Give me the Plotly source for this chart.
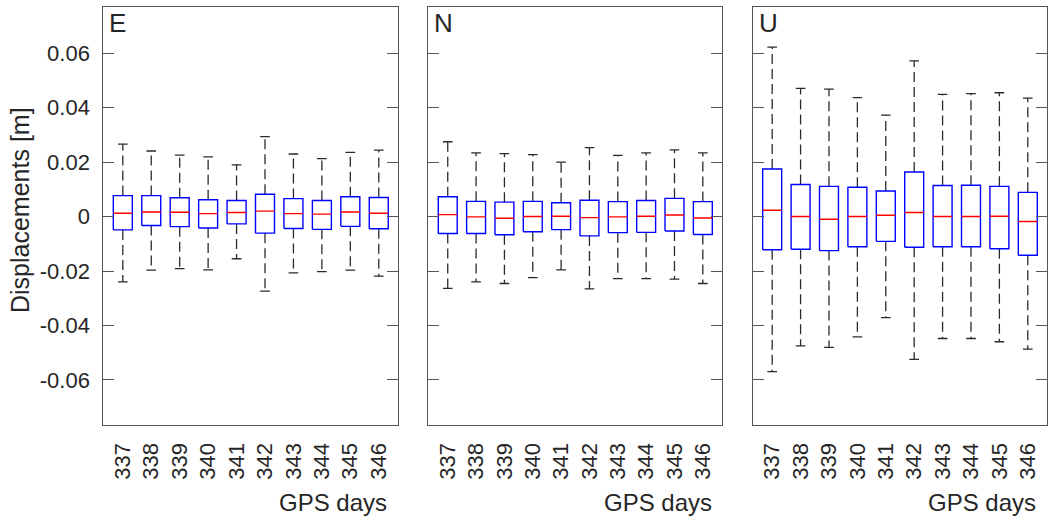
import plotly.graph_objects as go

days = ["337", "338", "339", "340", "341", "342", "343", "344", "345", "346"]
panels = ["E", "N", "U"]

# E component
E_q1 = [-0.0049, -0.0033, -0.0037, -0.0042, -0.0027, -0.0061, -0.0044, -0.0047, -0.0036, -0.0045]
E_med = [0.0012, 0.0017, 0.0016, 0.0011, 0.0015, 0.0020, 0.0011, 0.0009, 0.0017, 0.0012]
E_q3 = [0.0077, 0.0077, 0.0069, 0.0062, 0.0059, 0.0082, 0.0066, 0.0059, 0.0073, 0.0070]
E_lo = [-0.0240, -0.0197, -0.0191, -0.0196, -0.0155, -0.0274, -0.0207, -0.0202, -0.0197, -0.0219]
E_hi = [0.0266, 0.0241, 0.0226, 0.0219, 0.0190, 0.0294, 0.0230, 0.0213, 0.0236, 0.0244]

# N component
N_q1 = [-0.0062, -0.0062, -0.0067, -0.0056, -0.0048, -0.0071, -0.0059, -0.0058, -0.0053, -0.0066]
N_med = [0.0007, -0.0001, -0.0006, 0.0000, 0.0001, -0.0004, -0.0001, 0.0001, 0.0006, -0.0005]
N_q3 = [0.0073, 0.0056, 0.0053, 0.0056, 0.0051, 0.0060, 0.0055, 0.0059, 0.0067, 0.0055]
N_lo = [-0.0264, -0.0240, -0.0246, -0.0224, -0.0196, -0.0266, -0.0228, -0.0228, -0.0230, -0.0246]
N_hi = [0.0275, 0.0234, 0.0231, 0.0228, 0.0200, 0.0253, 0.0225, 0.0234, 0.0245, 0.0234]

# U component
U_q1 = [-0.0122, -0.0120, -0.0125, -0.0111, -0.0091, -0.0113, -0.0111, -0.0111, -0.0118, -0.0142]
U_med = [0.0023, 0.0000, -0.0010, 0.0000, 0.0005, 0.0015, 0.0000, 0.0000, 0.0001, -0.0018]
U_q3 = [0.0175, 0.0118, 0.0111, 0.0108, 0.0094, 0.0164, 0.0114, 0.0115, 0.0111, 0.0089]
U_lo = [-0.0570, -0.0475, -0.0481, -0.0442, -0.0371, -0.0525, -0.0448, -0.0448, -0.0460, -0.0487]
U_hi = [0.0623, 0.0471, 0.0468, 0.0437, 0.0373, 0.0572, 0.0449, 0.0452, 0.0455, 0.0435]

ytick_vals = [-0.06, -0.04, -0.02, 0, 0.02, 0.04, 0.06]
ytick_text = ["-0.06", "-0.04", "-0.02", "0", "0.02", "0.04", "0.06"]

data = [
    (E_q1, E_med, E_q3, E_lo, E_hi),
    (N_q1, N_med, N_q3, N_lo, N_hi),
    (U_q1, U_med, U_q3, U_lo, U_hi),
]

W, H = 1048, 521
xdoms = [[103.3 / W, 397.7 / W], [428.3 / W, 721.7 / W], [752.7 / W, 1046.7 / W]]
ydom = [1 - 425.3 / H, 1 - 7.3 / H]
hw = 0.334   # box half width (category units)
cw = 0.17    # cap half width

FONT = "Liberation Sans, Arial, Helvetica, sans-serif"
TXT = "#262626"
AX = "#555555"

fig = go.Figure()
for p, (q1, med, q3, lo, hi) in enumerate(data):
    xa = "x" if p == 0 else f"x{p+1}"
    ya = "y" if p == 0 else f"y{p+1}"
    pos = list(range(1, len(days) + 1))
    wx, wy, cx, cy, bx, by, mx, my = [], [], [], [], [], [], [], []
    for i, c in enumerate(pos):
        wx += [c, c, None, c, c, None]
        wy += [q3[i], hi[i], None, q1[i], lo[i], None]
        cx += [c - cw, c + cw, None, c - cw, c + cw, None]
        cy += [hi[i], hi[i], None, lo[i], lo[i], None]
        bx += [c - hw, c + hw, c + hw, c - hw, c - hw, None]
        by += [q1[i], q1[i], q3[i], q3[i], q1[i], None]
        mx += [c - hw, c + hw, None]
        my += [med[i], med[i], None]
    fig.add_trace(go.Scatter(x=wx, y=wy, mode="lines", xaxis=xa, yaxis=ya,
                             line=dict(color="#2a2a2a", width=1.3, dash="10px,5px"),
                             hoverinfo="skip", showlegend=False))
    fig.add_trace(go.Scatter(x=cx, y=cy, mode="lines", xaxis=xa, yaxis=ya,
                             line=dict(color="#2a2a2a", width=1.3),
                             hoverinfo="skip", showlegend=False))
    fig.add_trace(go.Scatter(x=bx, y=by, mode="lines", xaxis=xa, yaxis=ya,
                             line=dict(color="#0000FF", width=1.4),
                             hoverinfo="skip", showlegend=False))
    fig.add_trace(go.Scatter(x=mx, y=my, mode="lines", xaxis=xa, yaxis=ya,
                             line=dict(color="#FF0000", width=1.4),
                             hoverinfo="skip", showlegend=False))

layout = dict(
    width=W, height=H,
    margin=dict(l=0, r=0, t=0, b=0),
    paper_bgcolor="white", plot_bgcolor="white",
    font=dict(family=FONT, color=TXT, size=22),
    showlegend=False,
)
for p in range(3):
    sfx = "" if p == 0 else str(p + 1)
    layout["xaxis" + sfx] = dict(
        domain=xdoms[p], range=[0.314, 10.666], anchor="y" + sfx,
        tickmode="array", tickvals=list(range(1, len(days) + 1)), ticktext=days,
        tickangle=-90, ticks="", showline=True, mirror=True, linecolor=AX, linewidth=1,
        showgrid=False, zeroline=False, tickfont=dict(size=22, color=TXT),
        ticklabelstandoff=8, automargin=False, fixedrange=True,
    )
    layout["yaxis" + sfx] = dict(
        domain=ydom, range=[-0.0767, 0.0769], anchor="x" + sfx,
        tickmode="array", tickvals=ytick_vals, ticktext=ytick_text,
        showticklabels=(p == 0), ticks="inside", ticklen=11, tickcolor=AX, tickwidth=1,
        showline=True, mirror="ticks", linecolor=AX, linewidth=1,
        showgrid=False, zeroline=False, tickfont=dict(size=22, color=TXT),
        ticklabelstandoff=8, automargin=False, fixedrange=True,
    )
fig.update_layout(**layout)

label_x = [389 / W, 713.5 / W, 1038 / W]
for p in range(3):
    fig.add_annotation(xref="paper", yref="paper", x=label_x[p], y=1 - 502 / H,
                       text="GPS days", showarrow=False, xanchor="right", yanchor="middle",
                       font=dict(size=24, color=TXT, family=FONT))
    fig.add_annotation(xref="paper", yref="paper", x=(xdoms[p][0] * W + 4) / W, y=1 - 23 / H,
                       text=panels[p], showarrow=False, xanchor="left", yanchor="middle",
                       font=dict(size=26, color=TXT, family=FONT))
fig.add_annotation(xref="paper", yref="paper", x=20 / W, y=1 - 210 / H,
                   text="Displacements [m]", showarrow=False, textangle=-90,
                   xanchor="center", yanchor="middle",
                   font=dict(size=25, color=TXT, family=FONT))

fig.write_html("out.html")
